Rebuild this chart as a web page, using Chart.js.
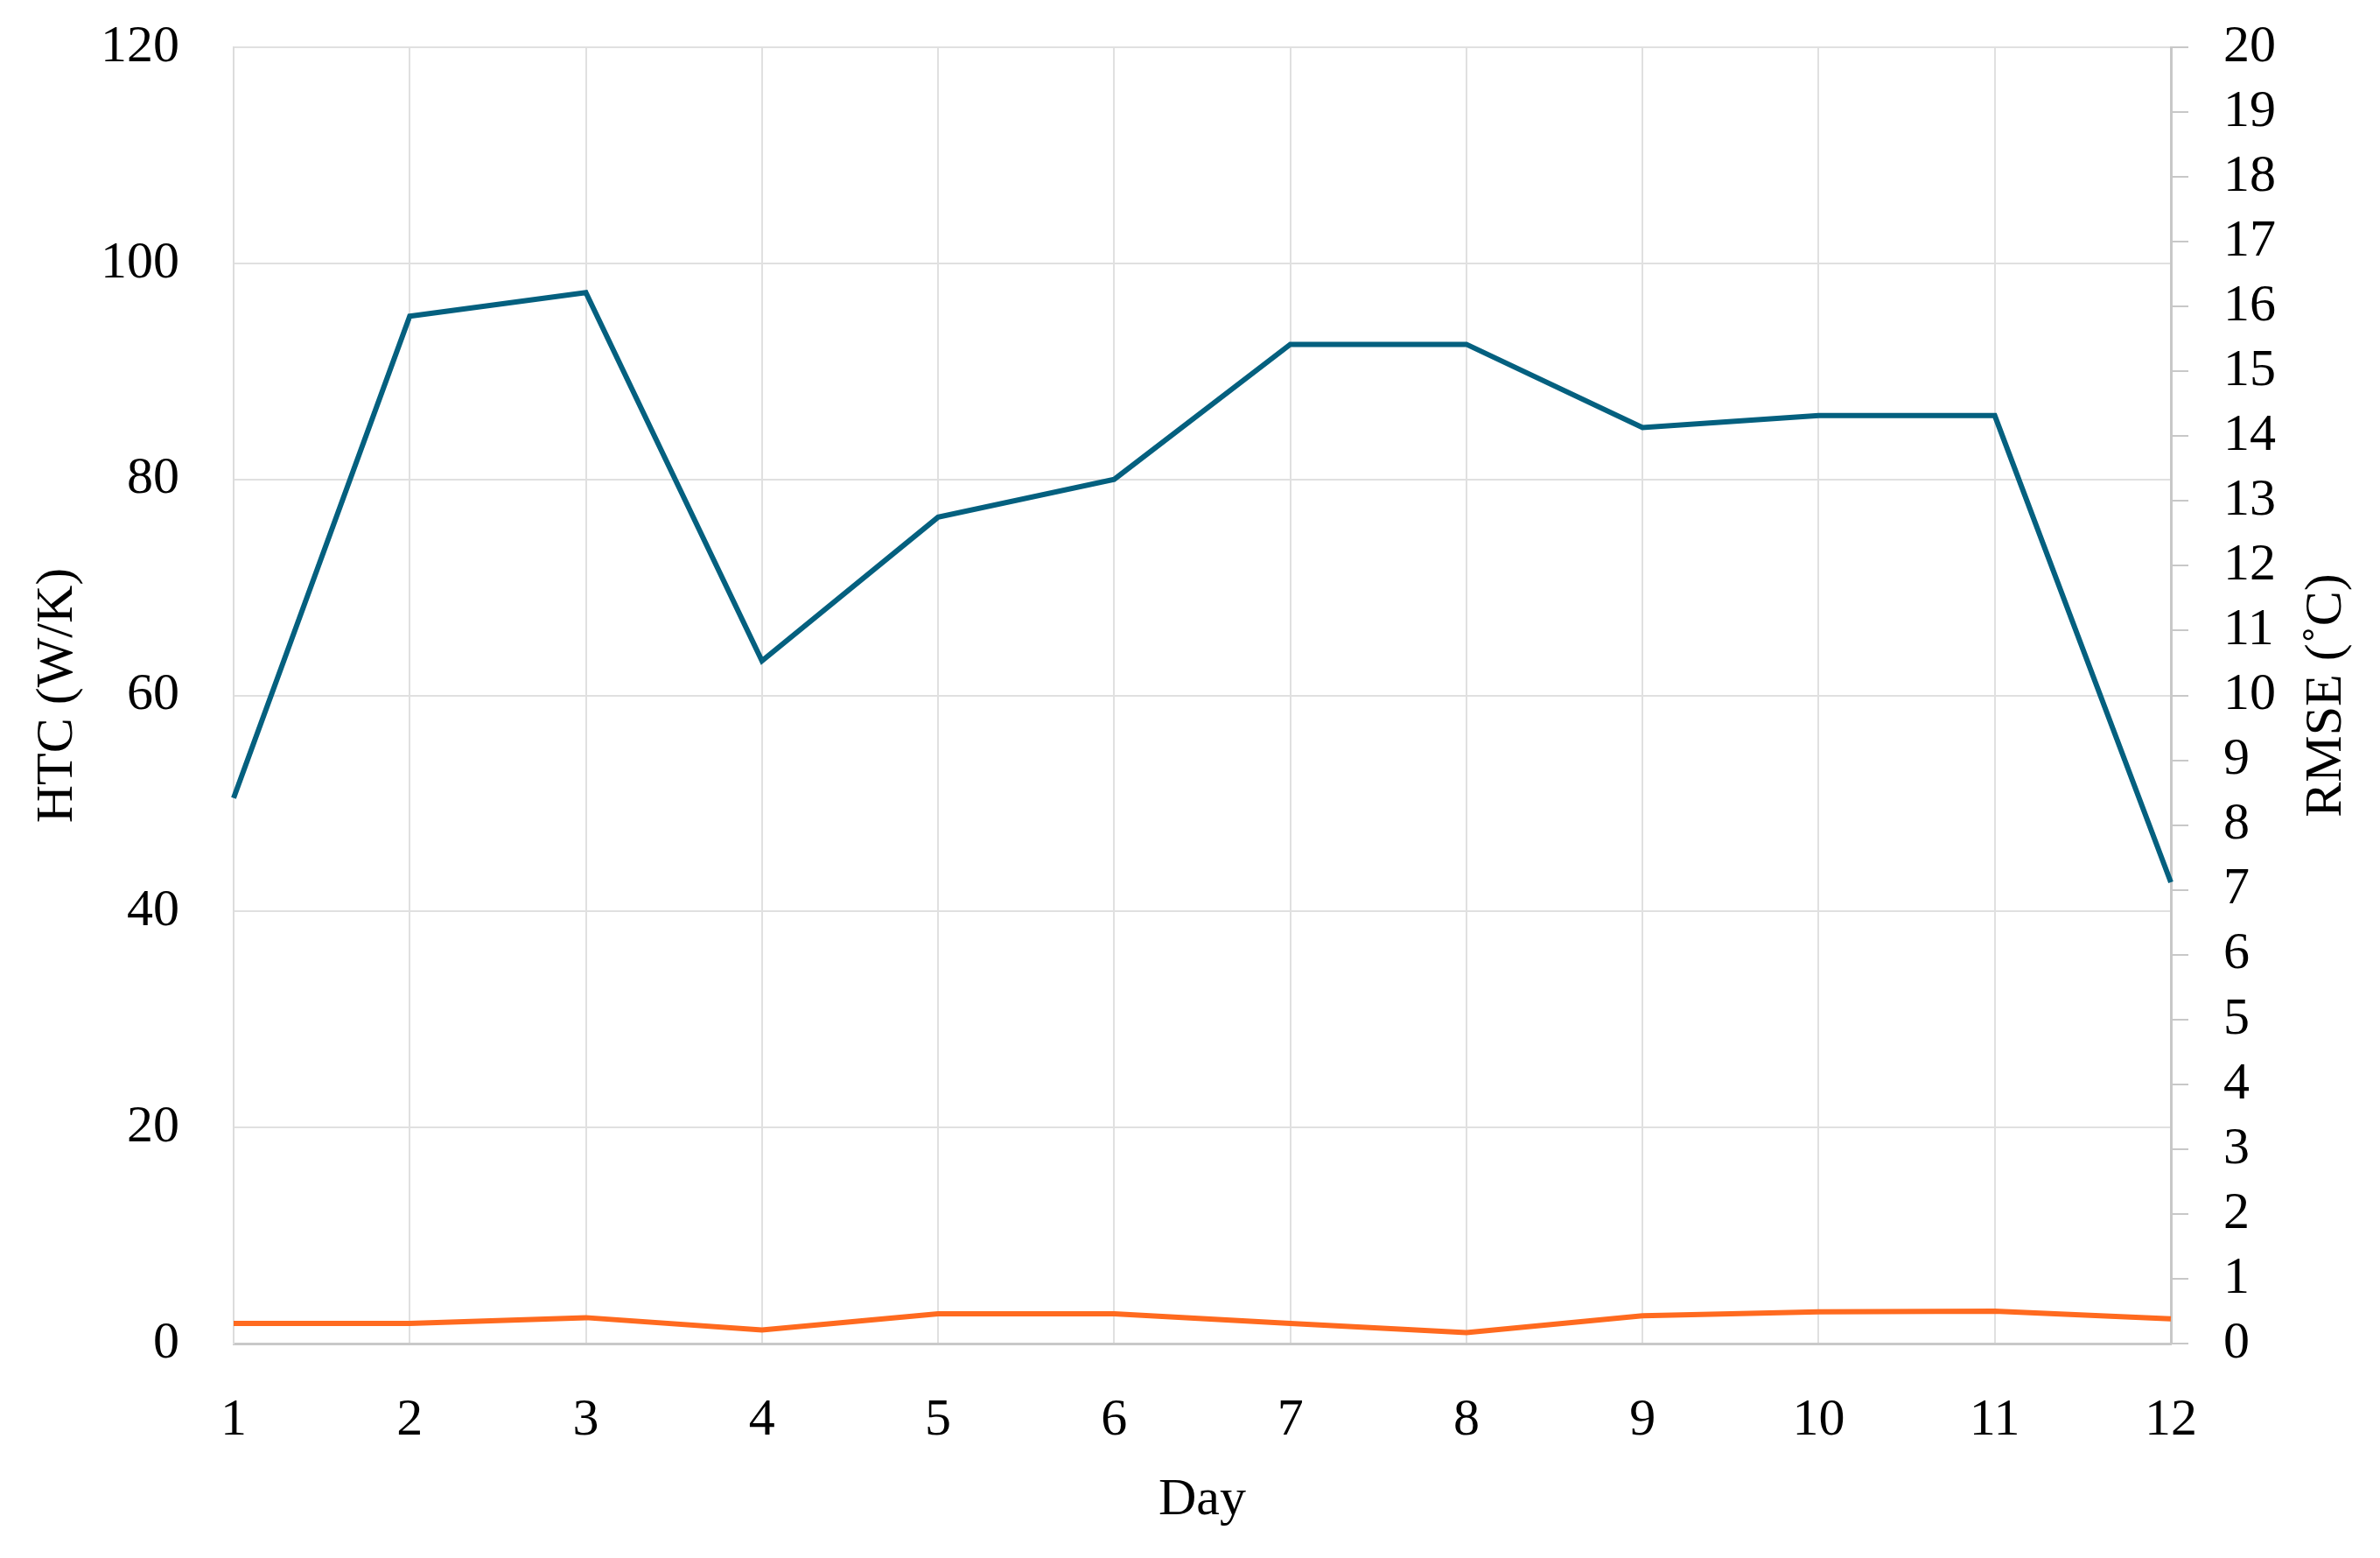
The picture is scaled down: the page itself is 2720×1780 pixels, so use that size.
<!DOCTYPE html>
<html>
<head>
<meta charset="utf-8">
<style>
  html, body { margin: 0; padding: 0; background: #fff; }
  #wrap { width: 2720px; height: 1780px; }
</style>
<script src="https://cdn.jsdelivr.net/npm/chart.js@4.4.0/dist/chart.umd.min.js"></script>
</head>
<body>
<div id="wrap"><canvas id="htcChart" width="2720" height="1780"></canvas></div>
<script>
// data
const days = ["1", "2", "3", "4", "5", "6", "7", "8", "9", "10", "11", "12"];
const htc = [50.5, 95.1, 97.3, 63.2, 76.5, 80.0, 92.5, 92.5, 84.8, 85.9, 85.9, 42.7];
const rmse = [0.31, 0.31, 0.40, 0.21, 0.46, 0.46, 0.31, 0.17, 0.43, 0.49, 0.50, 0.38];

const FONT = "'Liberation Serif', 'DejaVu Serif', serif";
const tickFont = { family: FONT, size: 60 };

// right title reads bottom-to-top, so draw it ourselves
const rightTitle = {
  id: "rightTitle",
  afterDraw(chart) {
    const s = chart.scales.y1;
    const ctx = chart.ctx;
    ctx.save();
    ctx.translate(s.right - 61, (s.top + s.bottom) / 2);
    ctx.rotate(-Math.PI / 2);
    ctx.font = "60px " + FONT;
    ctx.fillStyle = "#000";
    ctx.textAlign = "center";
    ctx.textBaseline = "middle";
    ctx.fillText("RMSE (˚C)", 0, 0);
    ctx.restore();
  }
};

// keep the plot box fixed: no extra room for overhanging labels
function noPad(scale) {
  scale.paddingTop = 0;
  scale.paddingBottom = 0;
  scale.paddingLeft = 0;
  scale.paddingRight = 0;
}

const ctx = document.getElementById("htcChart").getContext("2d");
new Chart(ctx, {
  type: "line",
  data: {
    labels: days,
    datasets: [
      {
        label: "HTC",
        data: htc,
        yAxisID: "y",
        borderColor: "#04607f",
        borderWidth: 6,
        pointRadius: 0,
        tension: 0,
        fill: false,
      },
      {
        label: "RMSE",
        data: rmse,
        yAxisID: "y1",
        borderColor: "#ff6a1f",
        borderWidth: 6,
        pointRadius: 0,
        tension: 0,
        fill: false,
      },
    ],
  },
  options: {
    responsive: false,
    animation: false,
    layout: { padding: { top: 54, left: 0, right: 0, bottom: 0 } },
    plugins: {
      legend: { display: false },
      tooltip: { enabled: false },
    },
    scales: {
      x: {
        offset: false,
        grid: { color: "#e0e0e0", lineWidth: 2, drawTicks: false },
        border: { color: "#c8c8c8", width: 3 },
        ticks: { font: tickFont, color: "#000", padding: 52, maxRotation: 0, autoSkip: false },
        title: {
          display: true,
          text: "Day",
          font: tickFont,
          color: "#000",
          padding: { top: 0, bottom: 30 },
        },
        afterFit(scale) { scale.height = 245; noPad(scale); },
      },
      y: {
        position: "left",
        min: 0,
        max: 120,
        ticks: { stepSize: 20, font: tickFont, color: "#000", padding: 62 },
        grid: { color: "#e0e0e0", lineWidth: 2, drawTicks: false },
        border: { color: "#dcdcdc", width: 2 },
        title: {
          display: true,
          text: "HTC (W/K)",
          font: tickFont,
          color: "#000",
          padding: { top: 30, bottom: 0 },
        },
        afterFit(scale) { scale.width = 267; noPad(scale); },
      },
      y1: {
        position: "right",
        min: 0,
        max: 20,
        ticks: { stepSize: 1, autoSkip: false, font: tickFont, color: "#000", padding: 40 },
        grid: {
          drawOnChartArea: false,
          drawTicks: true,
          tickLength: 20,
          color: "#c8c8c8",
          lineWidth: 2,
        },
        border: { color: "#c8c8c8", width: 3 },
        afterFit(scale) { scale.width = 239; noPad(scale); },
      },
    },
  },
  plugins: [rightTitle],
});
</script>
</body>
</html>
